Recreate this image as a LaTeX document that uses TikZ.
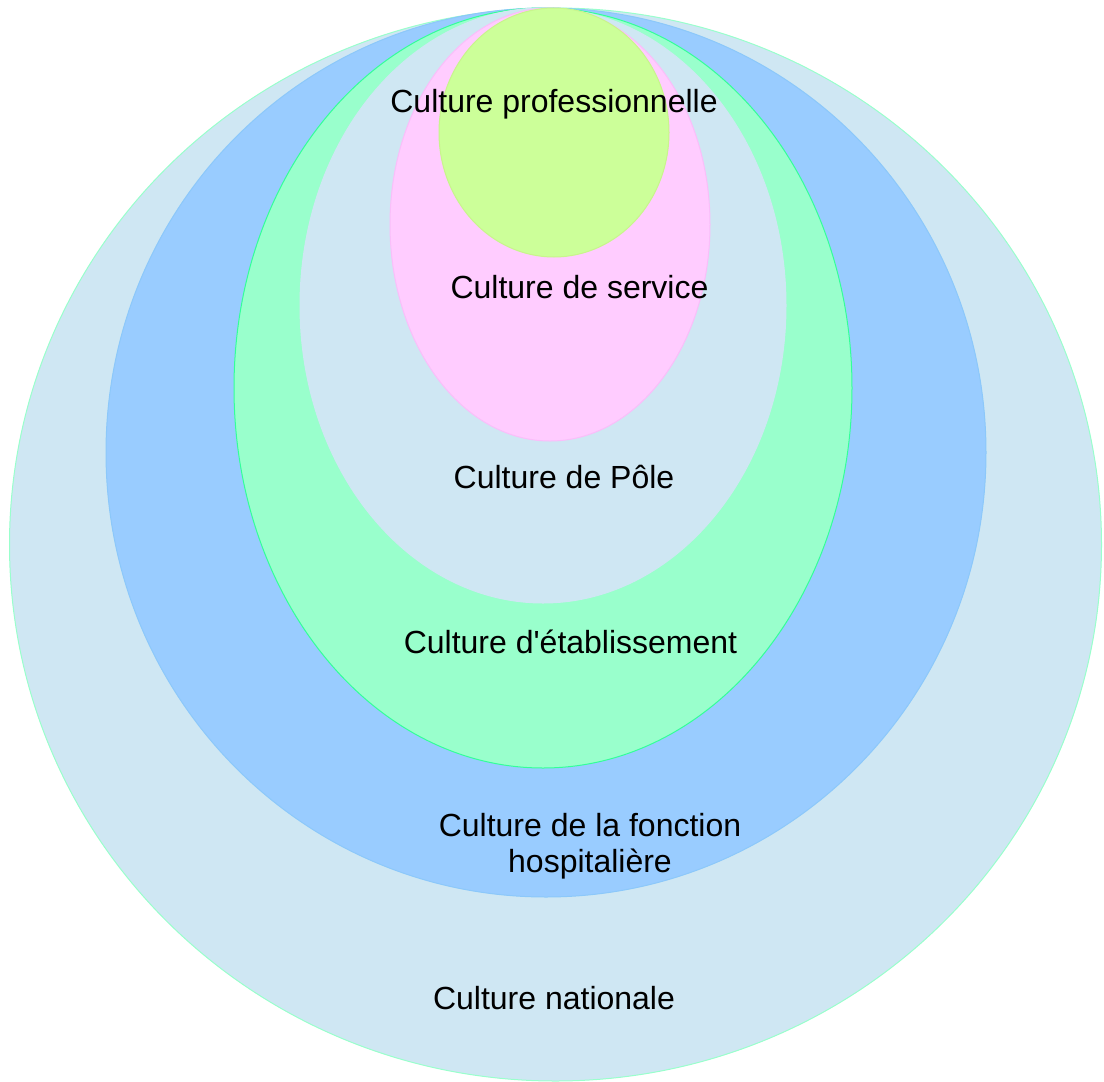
\documentclass[tikz,border=0pt]{standalone}
\usepackage{fontspec}
\setmainfont{Liberation Sans}
\begin{document}
\begin{tikzpicture}[x=1pt,y=-1pt,
  ring/.style={line width=1pt},
  lbl/.style={font=\fontsize{32}{36.7}\selectfont, text=black, align=center, inner sep=0pt, anchor=base}]
\definecolor{natfill}{RGB}{207,231,243}
\definecolor{natline}{RGB}{153,255,204}
\definecolor{fhfill}{RGB}{153,204,255}
\definecolor{fhline}{RGB}{140,200,250}
\definecolor{etfill}{RGB}{153,255,204}
\definecolor{etline}{RGB}{51,255,153}
\definecolor{polfill}{RGB}{207,231,243}
\definecolor{svfill}{RGB}{255,204,255}
\definecolor{svline}{RGB}{250,190,250}
\definecolor{prfill}{RGB}{204,255,153}
\definecolor{prline}{RGB}{200,245,140}
\useasboundingbox (0,0) rectangle (1104,1082);
% nested cultures, all touching at the top
\filldraw[ring, fill=natfill, draw=natline] (555.5,544.5) ellipse [x radius=546, y radius=536.5];
\filldraw[ring, fill=fhfill, draw=fhline] (546,452.5) ellipse [x radius=440, y radius=444.5];
\filldraw[ring, fill=etfill, draw=etline] (543,388) ellipse [x radius=309, y radius=380];
\filldraw[ring, fill=polfill, draw=polfill] (543,305.5) ellipse [x radius=243, y radius=297.5];
\filldraw[ring, fill=svfill, draw=svline] (550,224.5) ellipse [x radius=160, y radius=216.5];
\filldraw[ring, fill=prfill, draw=prline] (554,132.5) ellipse [x radius=115, y radius=124.5];
% labels, placed by their (last line) baselines
\node[lbl] (pro) at (554,112.7) {Culture professionnelle};
\node[lbl] (srv) at (579.5,298.3) {Culture de service};
\node[lbl] (pol) at (564,488.3) {Culture de Pôle};
\node[lbl] (eta) at (570.5,653) {Culture d\textquotesingle établissement};
\node[lbl] (fon) at (590,872.7) {Culture de la fonction\\hospitalière};
\node[lbl] (nat) at (554,1009.3) {Culture nationale};
\end{tikzpicture}
\end{document}
